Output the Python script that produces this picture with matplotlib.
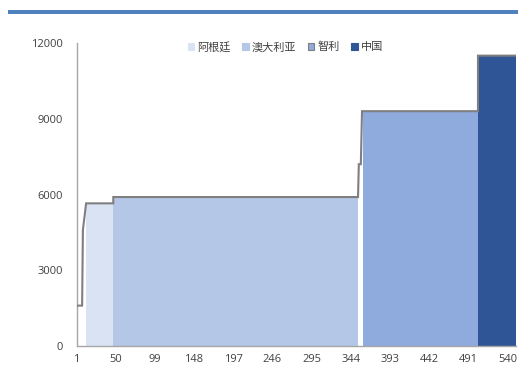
import matplotlib
matplotlib.use("Agg")
import matplotlib.pyplot as plt
from matplotlib.patches import Patch, Rectangle

plt.rcParams['font.family'] = ['Open Sans', 'Noto Sans CJK SC', 'DejaVu Sans']

# Cost curve: producing regions, cumulative capacity span and unit cost
regions = ['阿根廷', '澳大利亚', '智利', '中国']
region_start = [13, 47, 359, 503]
region_end = [47, 353, 503, 550]
region_cost = [5650, 5900, 9300, 11500]
region_colors = ['#DAE3F3', '#B4C7E7', '#8FAADC', '#2F5597']

# Stepped marginal cost line across cumulative capacity
curve_x = [1, 8, 9, 13, 47, 47, 353, 354, 356.5, 358, 503, 503, 550]
curve_y = [1600, 1600, 4600, 5650, 5650, 5900, 5900, 7200, 7200, 9300, 9300, 11500, 11500]

x_ticks = [1, 50, 99, 148, 197, 246, 295, 344, 393, 442, 491, 540]
y_ticks = [0, 3000, 6000, 9000, 12000]

fig = plt.figure(figsize=(5.18, 3.82), dpi=100)
ax = fig.add_axes([0.1477, 0.0942, 0.8484, 0.7932])

for start, end, cost, color in zip(region_start, region_end, region_cost, region_colors):
    ax.bar(start, cost, width=end - start, align='edge', color=color,
           linewidth=0, zorder=2)

ax.plot(curve_x, curve_y, color='#7F7F7F', linewidth=1.5, zorder=3,
        solid_joinstyle='miter')

ax.set_xlim(1, 550.5)
ax.set_ylim(0, 12000)
ax.set_xticks(x_ticks)
ax.set_yticks(y_ticks)
ax.tick_params(axis='both', length=0, labelsize=8, colors='#404040')
ax.tick_params(axis='y', pad=10)
ax.tick_params(axis='x', pad=6)

for side in ['top', 'right']:
    ax.spines[side].set_visible(False)
for side in ['left', 'bottom']:
    ax.spines[side].set_color('#A6A6A6')
    ax.spines[side].set_linewidth(1.0)

handles = []
for name, color in zip(regions, region_colors):
    edge = '#7F7F7F' if name == '智利' else color
    handles.append(Patch(facecolor=color, edgecolor=edge, linewidth=0.8, label=name))
fig.legend(handles=handles, loc='center', bbox_to_anchor=(0.551, 0.877), ncol=4,
           frameon=False, fontsize=8, handlelength=0.6, handleheight=0.6,
           handletextpad=0.3, columnspacing=1.0, labelcolor='#404040',
           prop={'family': ['Noto Sans CJK SC', 'DejaVu Sans'], 'size': 8})

# Title rule across the top
fig.add_artist(Rectangle((8 / 518, (382 - 14) / 382), 1 - 8 / 518, 4 / 382,
                         transform=fig.transFigure, color='#4F81BD', linewidth=0))

fig.savefig('out.png', dpi=100)
